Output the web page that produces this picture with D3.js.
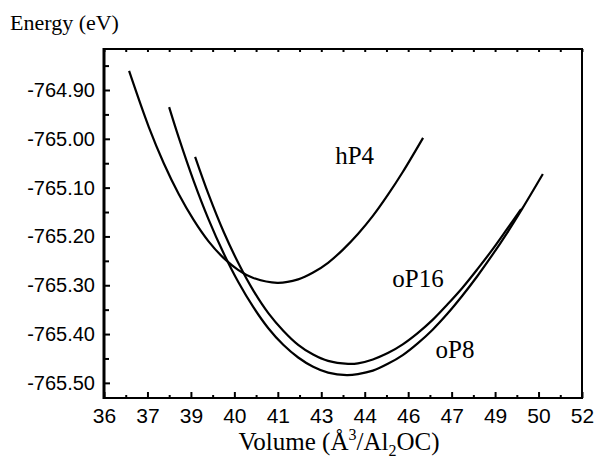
<!DOCTYPE html>
<html>
<head>
<meta charset="utf-8">
<script src="https://cdn.jsdelivr.net/npm/d3@7"></script>
<style>
  body { margin: 0; background: #fff; }
  .tick text { font-family: "Liberation Sans", Arial, sans-serif; font-size: 20px; fill: #000; }
  .xaxis .tick text { font-size: 21px; }
  .lbl { font-family: "Liberation Serif", "Times New Roman", serif; fill: #000; }
</style>
</head>
<body>
<div id="chart"></div>
<script>
// Data (volume in axis units, energy in eV)
const xTickLabels = ['36', '37', '39', '40', '41', '43', '44', '46', '47', '49', '50', '52']
const yTickValues = [-764.90, -765.00, -765.10, -765.20, -765.30, -765.40, -765.50]

const hP4Volume = [36.84, 37.5, 38, 38.5, 39, 39.5, 40, 40.5, 41, 41.8, 42.5, 43, 43.5, 44, 44.5, 45, 45.5, 46, 46.68]
const hP4Energy = [-764.861, -764.976, -765.050, -765.113, -765.166, -765.210, -765.244, -765.269, -765.285, -765.295,
  -765.288, -765.274, -765.254, -765.227, -765.195, -765.158, -765.115, -765.068, -764.998]

const oP8Volume = [38.18, 38.5, 39, 39.5, 40, 40.5, 41, 41.5, 42, 42.5, 43, 43.5, 44.13, 44.5, 45, 45.5, 46, 46.5, 47, 47.5, 48, 48.5, 49, 49.5, 50, 50.69]
const oP8Energy = [-764.935, -764.997, -765.086, -765.165, -765.234, -765.294, -765.345, -765.388, -765.422, -765.448, -765.467, -765.479, -765.484,
  -765.482, -765.475, -765.461, -765.443, -765.419, -765.391, -765.358, -765.321, -765.281, -765.238, -765.192, -765.143, -765.072]

const oP16Volume = [39.05, 39.5, 40, 40.5, 41, 41.5, 42, 42.5, 43, 43.5, 44.17, 44.5, 45, 45.5, 46, 46.5, 47, 47.5, 48, 48.5, 49, 49.5, 49.96]
const oP16Energy = [-765.037, -765.114, -765.190, -765.255, -765.311, -765.357, -765.393, -765.422, -765.442, -765.455, -765.461,
  -765.460, -765.452, -765.439, -765.421, -765.398, -765.371, -765.339, -765.305, -765.267, -765.227, -765.184, -765.144]

const seriesNames = ['hP4', 'oP16', 'oP8']

// Dimensions
const dimensions = { width: 602, height: 464, left: 104, right: 582, top: 49, bottom: 398 }

const svg = d3.select('#chart')
  .append('svg')
  .attr('width', dimensions.width)
  .attr('height', dimensions.height)

// Scales
const xScale = d3.scaleLinear()
  .domain([36, 52])
  .range([dimensions.left, dimensions.right])

const yScale = d3.scaleLinear()
  .domain([-765.531, -764.816])
  .range([dimensions.bottom, dimensions.top])

const step = 16 / 11
const xMajor = xTickLabels.map((d, i) => 36 + i * step)
const xMinor = xMajor.slice(0, -1).map(d => d + step / 2)
const yMinor = d3.range(-764.85, -765.531, -0.1)

// Bottom axis
const xAxis = d3.axisBottom(xScale)
  .tickValues(xMajor)
  .tickSize(-6)
  .tickPadding(10)
  .tickFormat((d, i) => xTickLabels[i])

svg.append('g')
  .attr('class', 'xaxis')
  .attr('transform', `translate(0, ${dimensions.bottom})`)
  .call(xAxis)
  .call(g => g.select('.domain').remove())

svg.append('g')
  .attr('transform', `translate(0, ${dimensions.bottom})`)
  .call(d3.axisBottom(xScale).tickValues(xMinor).tickSize(-3).tickFormat(''))
  .call(g => g.select('.domain').remove())

// Top axis (small ticks only)
svg.append('g')
  .attr('transform', `translate(0, ${dimensions.top})`)
  .call(d3.axisTop(xScale).tickValues(xMajor.concat(xMinor)).tickSize(-3).tickFormat(''))
  .call(g => g.select('.domain').remove())

// Left axis
const yAxis = d3.axisLeft(yScale)
  .tickValues(yTickValues)
  .tickSize(-6)
  .tickPadding(9)
  .tickFormat(d => d.toFixed(2))

svg.append('g')
  .attr('transform', `translate(${dimensions.left}, 0)`)
  .call(yAxis)
  .call(g => g.select('.domain').remove())

svg.append('g')
  .attr('transform', `translate(${dimensions.left}, 0)`)
  .call(d3.axisLeft(yScale).tickValues(yMinor).tickSize(-5).tickFormat(''))
  .call(g => g.select('.domain').remove())

svg.selectAll('.tick line').attr('stroke', '#000').attr('stroke-width', 2)

// Frame
svg.append('path')
  .attr('d', `M${dimensions.left},${dimensions.top}H${dimensions.right}V${dimensions.bottom}H${dimensions.left}`)
  .attr('fill', 'none')
  .attr('stroke', '#000')
  .attr('stroke-width', 2)

svg.append('line')
  .attr('x1', dimensions.left).attr('x2', dimensions.left)
  .attr('y1', dimensions.top - 1).attr('y2', dimensions.bottom + 1)
  .attr('stroke', '#000')
  .attr('stroke-width', 3)

// Curves
const lineGenerator = d3.line()
  .x(d => xScale(d[0]))
  .y(d => yScale(d[1]))
  .curve(d3.curveCatmullRom)

const curves = [
  d3.zip(hP4Volume, hP4Energy),
  d3.zip(oP16Volume, oP16Energy),
  d3.zip(oP8Volume, oP8Energy),
]

svg.append('g')
  .selectAll('path')
  .data(curves)
  .join('path')
  .attr('d', lineGenerator)
  .attr('fill', 'none')
  .attr('stroke', '#000')
  .attr('stroke-width', 2.2)

// Curve labels
const labelPos = [[43.74, -765.051], [45.65, -765.303], [47.1, -765.450]]
svg.append('g')
  .selectAll('text')
  .data(seriesNames)
  .join('text')
  .attr('class', 'lbl')
  .attr('x', (d, i) => xScale(labelPos[i][0]))
  .attr('y', (d, i) => yScale(labelPos[i][1]))
  .attr('font-size', 25)
  .text(d => d)

// Axis titles
svg.append('text')
  .attr('class', 'lbl')
  .attr('x', 10)
  .attr('y', 30)
  .attr('font-size', 22)
  .text('Energy (eV)')

const xTitle = svg.append('text')
  .attr('class', 'lbl')
  .attr('x', (dimensions.left + dimensions.right) / 2 - 4)
  .attr('y', 450)
  .attr('font-size', 25)
  .attr('text-anchor', 'middle')
xTitle.append('tspan').text('Volume (Å')
xTitle.append('tspan').attr('font-size', 16).attr('dy', -10).text('3')
xTitle.append('tspan').attr('dy', 10).text('/Al')
xTitle.append('tspan').attr('font-size', 16).attr('dy', 6).text('2')
xTitle.append('tspan').attr('dy', -6).text('OC)')
</script>
</body>
</html>
